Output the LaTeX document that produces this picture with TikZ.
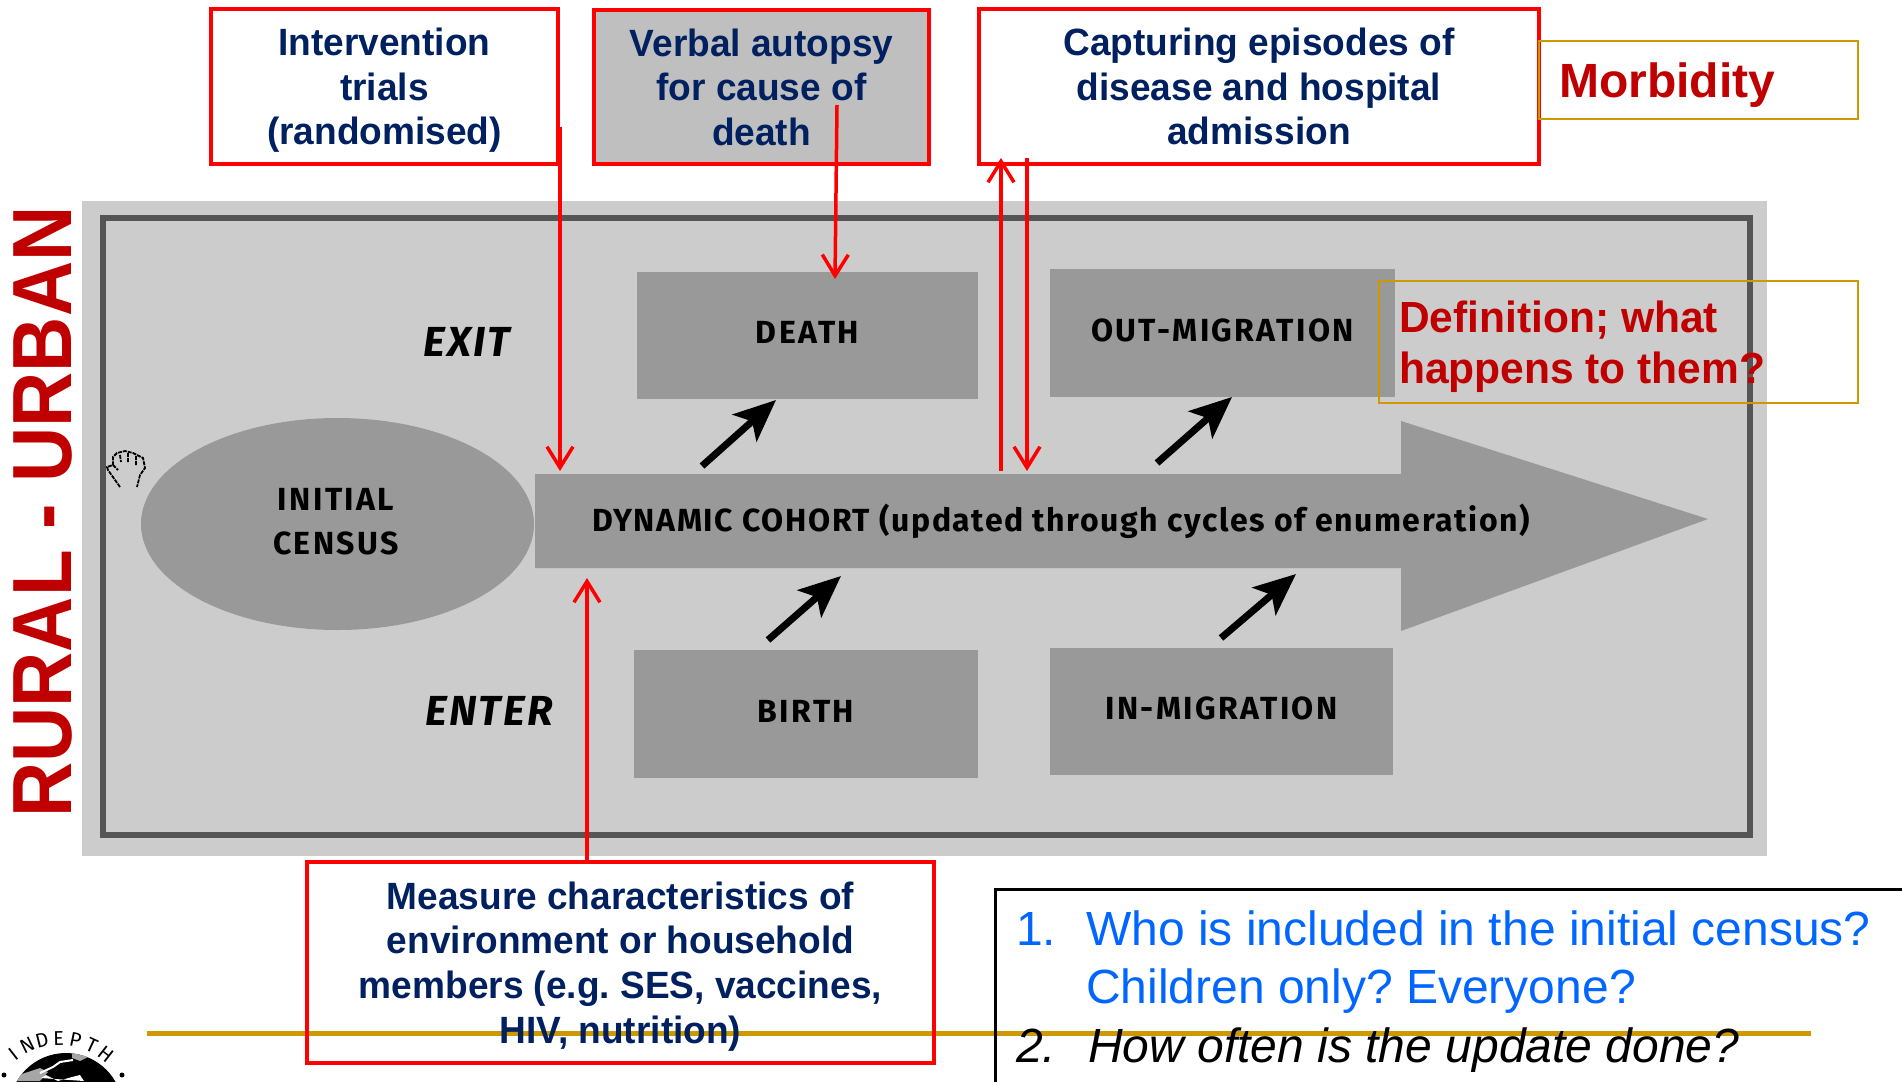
\documentclass[tikz,border=0pt]{standalone}
\usepackage{fontspec}
\usepackage{tikz}
\usetikzlibrary{arrows.meta}
\usetikzlibrary{shapes.geometric}
\setmainfont{Liberation Sans}
\newfontfamily\tightfont{Liberation Sans}[FakeStretch=0.975]
\newfontfamily\sidefont{Liberation Sans}[FakeStretch=0.91]
\newfontfamily\flowfont{Fira Sans}[LetterSpace=7.5]
\newfontfamily\cohortfont{Fira Sans}[LetterSpace=5]
\newfontfamily\sideflowfont{Fira Sans}[LetterSpace=5]
\definecolor{navytext}{HTML}{002060}
\definecolor{redtext}{HTML}{C00000}
\definecolor{goldline}{HTML}{CC9900}
\definecolor{blueq}{HTML}{0066FF}
\definecolor{panel}{HTML}{CCCCCC}
\definecolor{flow}{HTML}{999999}
\definecolor{framegrey}{HTML}{555555}
\frenchspacing
\tikzset{
  redbox/.style={draw=red,line width=4pt,inner sep=0pt,align=center,text=navytext,text depth=0pt,
    font=\fontsize{38}{44.6}\tightfont\bfseries},
  goldbox/.style={draw=goldline,line width=2.5pt,inner sep=0pt,text=redtext},
  flowbox/.style={fill=flow,inner sep=0pt,text depth=6pt,font=\fontsize{32}{38}\flowfont\bfseries},
  flowtext/.style={inner sep=0pt,align=center,font=\fontsize{32}{44}\flowfont\bfseries},
  sideword/.style={inner sep=0pt,font=\fontsize{42}{42}\sideflowfont\bfseries\itshape},
  redarrow/.style={draw=red,line width=3.5pt,-{Straight Barb[length=21pt,width=26pt,line width=3.5pt]}},
  blackarrow/.style={draw=black,line width=7pt,-{Stealth[length=42pt,width=36pt,inset=10pt]}},
  handline/.style={draw=black,line width=1.8pt,dash pattern=on 4pt off 1pt},
  question/.style={inner sep=0pt,anchor=base west,font=\fontsize{48}{58}\selectfont}
}
\begin{document}
\begin{tikzpicture}[x=1pt,y=-1pt]
\useasboundingbox (0,0) rectangle (1902,1081);
% grey panel
\fill[panel] (82,201) rectangle (1767,856);
\draw[framegrey,line width=6pt] (103,218) rectangle (1750,835);
\node (rural)[rotate=90,inner sep=0pt,text=redtext,font=\fontsize{84}{84}\sidefont\bfseries] at (43,512) {RURAL - URBAN};

% flow boxes
\node (death)[flowbox,minimum width=341,minimum height=127] at (807.5,335.5) {DEATH};
\node (outmig)[flowbox,minimum width=345,minimum height=128] at (1222.5,333) {OUT-MIGRATION};
\node (birth)[flowbox,minimum width=344,minimum height=128] at (806,714) {BIRTH};
\node (inmig)[flowbox,minimum width=343,minimum height=127] at (1221.5,711.5) {IN-MIGRATION};
\node (census)[ellipse,fill=flow,minimum width=393,minimum height=212,inner sep=0pt] at (337.5,524) {};
\fill[flow] (535,474) -- (1401,474) -- (1401,421) -- (1708,519) -- (1401,631) -- (1401,568) -- (535,568) -- cycle;
\node (censustext)[flowtext] at (336,522) {INITIAL\\CENSUS};
\node (cohort)[inner sep=0pt,font=\fontsize{32}{38}\cohortfont\bfseries] at (1061,521) {DYNAMIC COHORT (updated through cycles of enumeration)};
\node (exit)[sideword] at (467,342) {EXIT};
\node (enter)[sideword] at (489,711) {ENTER};

% top boxes
\node (trials)[redbox,minimum width=347,minimum height=155] at (384.5,86.5) {Intervention\\trials\\(randomised)};
\node (autopsy)[redbox,fill=black!25,minimum width=335,minimum height=154] at (761.5,87) {Verbal autopsy\\for cause of\\death};
\node (episodes)[redbox,minimum width=560,minimum height=155] at (1259,86.5) {Capturing episodes of\\disease and hospital\\admission};
\node (morbid)[goldbox,minimum width=319,minimum height=78] at (1698.5,80) {};
\node (morbidtext)[inner sep=0pt,anchor=west,text=redtext,text depth=0pt,font=\fontsize{48}{48}\selectfont\bfseries] at (1559,80) {Morbidity};
\node (define)[goldbox,minimum width=479,minimum height=122] at (1618.5,342) {};
\node (definetext)[inner sep=0pt,anchor=west,align=left,text=redtext,text depth=0pt,font=\fontsize{43.6}{51}\tightfont\bfseries] at (1399,342) {Definition; what\\happens to them?};

% bottom
\draw[goldline,line width=5pt] (147,1033) -- (1811,1033);
\node (measure)[redbox,minimum width=627,minimum height=201] at (620.5,962.5) {Measure characteristics of\\environment or household\\members (e.g. SES, vaccines,\\HIV, nutrition)};
\draw[black,line width=3pt] (1910,889) -- (995,889) -- (995,1090);
\node (num1)[question,text=blueq] at (1016,945) {1.};
\node (q1a)[question,text=blueq] at (1086,945) {Who is included in the initial census?};
\node (q1b)[question,text=blueq] at (1086,1003) {Children only? Everyone?};
\node (num2)[question,font=\fontsize{48}{58}\selectfont\itshape] at (1016,1062) {2.};
\node (q2)[question,font=\fontsize{48}{58}\selectfont\itshape] at (1088,1062) {How often is the update done?};

% ends of the connectors
\coordinate (trialsout) at (560,127);
\coordinate (cohorta) at (560,471);
\coordinate (autopsyout) at (837,105);
\coordinate (deathin) at (835,279);
\coordinate (cohortb) at (1001,471);
\coordinate (episodesin) at (1001,158);
\coordinate (episodesout) at (1027,158);
\coordinate (cohortc) at (1027,471);
\coordinate (measureout) at (587,862);
\coordinate (cohortd) at (587,578);
\coordinate (deathfrom) at (702,466);
\coordinate (deathto) at (776,400);
\coordinate (birthfrom) at (768,640);
\coordinate (birthto) at (841,576);
\coordinate (outfrom) at (1157,463);
\coordinate (outto) at (1232,397);
\coordinate (infrom) at (1221,638);
\coordinate (into) at (1296,574);

\draw[redarrow] (trialsout) to (cohorta);
\draw[redarrow] (autopsyout) to (deathin);
\draw[redarrow] (cohortb) to (episodesin);
\draw[redarrow] (episodesout) to (cohortc);
\draw[redarrow] (measureout) to (cohortd);
\draw[blackarrow] (deathfrom) to (deathto);
\draw[blackarrow] (birthfrom) to (birthto);
\draw[blackarrow] (outfrom) to (outto);
\draw[blackarrow] (infrom) to (into);

% hand cursor
\draw[handline] (120,487) -- (108,470) -- (107,467) -- (113,465) -- (113,457) -- (117,453) -- (125,451) -- (133,453) -- (143,458) -- (145,468) -- (140,475) -- (137,487);
\draw[handline] (120,455) -- (121,462) (128,453) -- (128,462) (136,456) -- (136,465) (113,465) -- (118,470);

% logo
\fill[black] (66,1110) circle (57);
\begin{scope}
\clip (66,1110) circle (57);
\fill[black!35] (0,1081) -- (28,1072) -- (40,1068) -- (48,1072) -- (40,1081) -- cycle;
\fill[black!35] (72,1050) -- (90,1056) -- (80,1061) -- (72,1058) -- cycle;
\fill[white] (41,1078) -- (46,1075) -- (58,1081) -- (72,1077) -- (80,1075) -- (84,1081) -- cycle;
\draw[white,line width=2pt] (40,1073) -- (53,1067) -- (60,1062) -- (73,1060);
\end{scope}
\foreach \ch/\ang [count=\i] in {I/128,N/116,D/104,E/91,P/78,T/65,H/52}
  \node (logo\i)[inner sep=0pt,rotate={\ang-90},font=\fontsize{20}{20}\flowfont] at ({60+75*cos(\ang)},{1113-75*sin(\ang)}) {\ch};
\fill[black] (4,1075) circle (2.5);
\fill[black] (122,1075) circle (2.5);
\end{tikzpicture}
\end{document}
